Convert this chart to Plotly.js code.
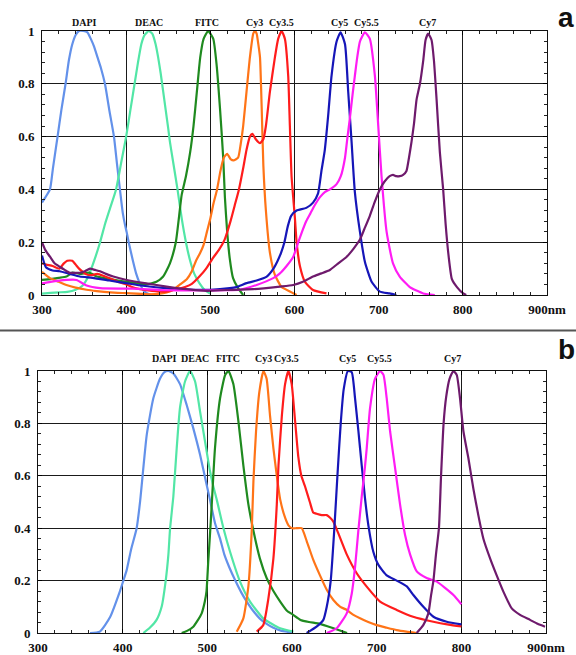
<!DOCTYPE html>
<html><head><meta charset="utf-8">
<script src="https://cdn.plot.ly/plotly-3.0.1.min.js"></script>
<style>html,body{margin:0;padding:0;background:#fff}#chart{width:576px;height:655px}</style>
</head><body><div id="chart"></div>
<script>
// ---------- data ----------
const dyeNames = ['DAPI','DEAC','FITC','Cy3','Cy3.5','Cy5','Cy5.5','Cy7'];
const xTickVals = [300,400,500,600,700,800,900];
const xTickText = ['300','400','500','600','700','800','900nm'];
const yTickVals = [0,0.2,0.4,0.6,0.8,1];
const yTickText = ['0','0.2','0.4','0.6','0.8','1'];
const panelLabels = ['a','b'];

// label positions (nm) for dye names
const labelA_nm = [350,427,496,552,584,654,685,758];
const labelB_nm = [449,485,524,566,594,665,703,790];

// Panel a
const aDAPI_nm = [300,304,309.5,313,318.5,323,328,332,336,340,344,349,354,358,362,366,370,374.8,380,385.5,389,392.6,396,399,400.5,403,408,412,416,420,424,430];
const aDAPI_val = [.35,.37,.40,.48,.60,.70,.80,.89,.95,.985,1.0,1.0,.995,.97,.94,.90,.86,.80,.70,.60,.50,.40,.31,.26,.24,.20,.13,.08,.045,.02,.008,0];
const aDEAC_nm = [300,310,320,330,340,348,355,362,369,375,381,388,394,400,405,410,414,418,422,427,431,435,438,441,444,447,450,452,456,461,466,471,476,481,487,493,500];
const aDEAC_val = [.005,.008,.01,.012,.02,.035,.07,.13,.20,.27,.33,.40,.50,.60,.70,.80,.88,.95,.985,1.0,.99,.95,.90,.84,.77,.70,.63,.58,.50,.40,.29,.20,.13,.08,.045,.02,.005];
const aFITC_nm = [300,310,320,329,336,345,356,365,381,400,424,436,444,452,459,466,471,476,480,484,488,492,497.5,503.5,507.5,511.4,515.3,517.3,520,523,527,533,539];
const aFITC_val = [.057,.06,.065,.07,.085,.08,.085,.07,.06,.05,.04,.05,.07,.12,.20,.38,.45,.54,.64,.77,.90,.97,1.0,.97,.87,.71,.52,.37,.24,.14,.064,.026,0];
const aCy3_nm = [300,309.5,320,329,340,353,365,381,400,424,440,448,456,464,472,478,483,488,492,496,500,504,508,512,516,520,524,528,533,536,539,543,547,551,553,555,557,559,561,563,566,570.8,576.7,584.7,594.5,602.5];
const aCy3_val = [.088,.064,.05,.038,.028,.02,.015,.01,.007,.003,.005,.01,.02,.04,.06,.09,.13,.16,.19,.24,.29,.35,.40,.47,.52,.535,.515,.51,.52,.57,.64,.77,.90,.99,1.0,.99,.95,.90,.71,.49,.32,.16,.076,.03,.013,0];
const aCy35_nm = [300,305,312.6,320.5,326,330,336,340,344,352,358,365.7,375,383.5,390,399,407,415,430.7,446.5,462,470,478,487,495,503,510,517,524,529,534,539,543,547,550,554,559,563,566,570.8,576.7,580.6,584.7,588.6,592.5,594.5,596.5,600.5,602.5,606.4,612.4,622,638];
const aCy35_val = [.12,.115,.11,.10,.12,.13,.13,.115,.10,.08,.075,.08,.07,.06,.05,.042,.03,.023,.016,.013,.023,.03,.042,.07,.10,.14,.17,.21,.28,.34,.40,.48,.55,.60,.61,.59,.575,.59,.64,.77,.90,.97,1.0,.97,.83,.64,.45,.29,.20,.11,.05,.019,.006];
const aCy5_nm = [300,304.7,312.6,321,333,345,360,380,400,420,450,480,500,523,531,543,555,567,575,580,584,588,592,596,602.5,614,622,628,632,636,640,644,650,654.7,660,663.8,667.8,671.7,677.7,683.6,691.6,701.4,713,721];
const aCy5_val = [.15,.105,.093,.09,.08,.07,.065,.055,.045,.035,.025,.02,.02,.026,.03,.045,.055,.07,.10,.13,.16,.20,.26,.30,.32,.33,.35,.385,.47,.55,.68,.83,.96,.995,.95,.77,.58,.39,.24,.126,.05,.013,.006,0];
const aCy55_nm = [300,310,329,341,353,369,408,448,488,519,535,555,574.7,582,590.6,598.5,604.5,609,614,619,624,630,636,642,650,655,660,663,665.8,669,671.7,674.5,677.7,683.6,689.5,695.5,699.5,703.4,709.4,717,725,737,753,766.7];
const aCy55_val = [.044,.05,.057,.057,.036,.026,.024,.018,.018,.018,.02,.038,.064,.08,.11,.145,.20,.24,.28,.31,.34,.37,.39,.40,.42,.45,.52,.60,.67,.76,.83,.90,.96,.995,.97,.83,.64,.45,.24,.12,.07,.03,.006,0];
const aCy7_nm = [300,304,309.5,315,321,327,333,339,345,351,357,363,369,376,384.7,400.6,424,448,471.8,495.6,519,551,582.7,598.5,610,622,632,642,652,662,670,677.7,683,689.5,695,701.4,707,713,717,721,725,729,733,736,739,742,745,749,753,755.7,758.8,762.8,765.6,768.8,772.7,776.6,779.5,783,787,793,800.4,804];
const aCy7_val = [.20,.17,.145,.12,.107,.095,.084,.084,.084,.09,.10,.095,.09,.08,.07,.057,.044,.032,.022,.016,.019,.022,.032,.038,.05,.07,.082,.095,.12,.145,.175,.21,.25,.30,.35,.40,.43,.45,.455,.45,.45,.455,.47,.52,.58,.65,.74,.80,.89,.966,.99,.966,.89,.74,.54,.40,.27,.15,.06,.03,.006,0];

// Panel b
const bDAPI_nm = [361.4,373,385,396.8,400.8,404.7,410,416.5,420.5,428.4,436.2,444,449,454,460,467.7,475.6,483.5,491.4,499.2,503,509,515,520,526,533,540,546.5,554,562,570,578,586,595,600];
const bDAPI_val = [0,.005,.06,.16,.20,.24,.32,.40,.50,.756,.896,.97,.995,1.0,.99,.95,.87,.78,.68,.565,.51,.42,.36,.30,.25,.20,.155,.12,.085,.055,.035,.02,.01,.004,0];
const bDEAC_nm = [424.4,432,440,446,450.8,454,456,459.8,463.8,467.7,473.6,479.6,485.5,491.4,497.3,503,507,511,519,526.8,538.6,550.4,566,586,601.6];
const bDEAC_val = [0,.02,.05,.10,.20,.30,.40,.52,.705,.86,.96,1.0,.96,.845,.73,.62,.56,.51,.40,.31,.196,.12,.056,.018,.005];
const bFITC_nm = [469.7,476,483.4,488,493.3,497,499,501,503,505,509,515,521,525,530.7,536.6,542.5,548.5,554.4,562,570,578,586,594,601,610,620,633,649,665];
const bFITC_val = [0,.008,.024,.045,.075,.12,.16,.27,.37,.48,.705,.896,.985,1.0,.95,.81,.64,.49,.39,.285,.21,.16,.12,.085,.07,.05,.042,.035,.018,0];
const bCy3_nm = [534.7,542.5,548.5,552.4,554.4,557.5,561.4,566.2,570,574,578,582,586,591.8,596,600,605,611.4,617.4,625,633,641,648.8,657,664.6,672,680.3,690,700,712,723.6,735,747];
const bCy3_val = [.005,.056,.18,.39,.58,.77,.92,1.0,.97,.83,.705,.60,.51,.44,.41,.40,.40,.40,.35,.28,.22,.165,.126,.10,.088,.07,.056,.042,.03,.02,.011,.005,0];
const bCy35_nm = [558.3,566,572,578,582,584,588,591.8,595.7,599.6,603.6,607.5,611,615.3,621,625,629,635,641,645,648.8,654.7,664.6,676.4,688.2,704,723.6,743,766.9,785,800];
const bCy35_val = [.005,.03,.13,.285,.49,.64,.83,.95,1.0,.95,.81,.67,.60,.56,.50,.46,.455,.45,.45,.44,.425,.38,.30,.228,.177,.12,.088,.062,.043,.032,.025];
const bCy5_nm = [617.3,629,637,641,645.7,650,653.6,657.5,661,666,670.5,674.4,678.4,682.3,686.2,690.2,696,702,711.8,723.6,735.5,743.3,755.1,767,782.7,800];
const bCy5_val = [0,.024,.05,.10,.20,.40,.60,.80,.93,1.0,.995,.896,.77,.64,.514,.41,.31,.26,.22,.20,.178,.145,.10,.062,.043,.033];
const bCy55_nm = [641,652.8,664.6,670.5,674.4,678.3,682.3,686,688.2,692.1,698,704,708,711.8,715.8,721.7,727.6,733.5,739.4,747.3,759,771,780.7,790.6,800];
const bCy55_val = [0,.018,.075,.15,.25,.39,.52,.63,.705,.857,.97,1.0,.985,.896,.77,.63,.49,.374,.30,.235,.21,.196,.172,.145,.11];
const bCy7_nm = [747.2,755,761,764,767,770,773.5,776,779,782,786,790.6,794.5,798.4,802.4,808.3,814.2,820,826,833.9,841.7,849.6,859.5,869.3,881.1,890,898.8];
const bCy7_val = [0,.03,.075,.14,.20,.30,.40,.60,.80,.90,.97,1.0,.985,.896,.77,.667,.55,.45,.36,.285,.22,.158,.094,.069,.05,.035,.024];

// ---------- styles ----------
const dyeColors = ['#6391ea','#52e6a6','#1f8a1f','#ff7417','#ff1c1c','#1616b8','#ff1cf4','#6e1a6c'];

const panelA = [[aDAPI_nm,aDAPI_val],[aDEAC_nm,aDEAC_val],[aFITC_nm,aFITC_val],[aCy3_nm,aCy3_val],[aCy35_nm,aCy35_val],[aCy5_nm,aCy5_val],[aCy55_nm,aCy55_val],[aCy7_nm,aCy7_val]];
const panelB = [[bDAPI_nm,bDAPI_val],[bDEAC_nm,bDEAC_val],[bFITC_nm,bFITC_val],[bCy3_nm,bCy3_val],[bCy35_nm,bCy35_val],[bCy5_nm,bCy5_val],[bCy55_nm,bCy55_val],[bCy7_nm,bCy7_val]];

const traces = [];
panelA.forEach((d,i)=>traces.push({type:'scatter',mode:'lines',x:d[0],y:d[1],xaxis:'x',yaxis:'y',name:dyeNames[i],
  line:{color:dyeColors[i],width:2.2,shape:'spline',smoothing:0.5},hoverinfo:'skip',showlegend:false}));
panelB.forEach((d,i)=>traces.push({type:'scatter',mode:'lines',x:d[0],y:d[1],xaxis:'x2',yaxis:'y2',name:dyeNames[i],
  line:{color:dyeColors[i],width:2.2,shape:'spline',smoothing:0.5},hoverinfo:'skip',showlegend:false}));

const serif = 'Liberation Serif';
const tickFont = {family:serif,size:13,color:'#111',weight:'bold'};
function xAx(domain, anchor){
  return {domain:domain,anchor:anchor,range:[300,900],tickmode:'array',tickvals:xTickVals,ticktext:xTickText,
    ticks:'inside',ticklen:4,tickcolor:'#000',showgrid:true,gridcolor:'#1a1a1a',gridwidth:1,
    showline:true,linecolor:'#111',linewidth:1,mirror:'allticks',zeroline:false,tickfont:tickFont,
    minor:{tickmode:'linear',tick0:300,dtick:20,ticks:'inside',ticklen:3,tickcolor:'#222',showgrid:false},
    ticklabelstandoff:2,fixedrange:true};
}
function yAx(domain, anchor){
  return {domain:domain,anchor:anchor,range:[0,1],tickmode:'array',tickvals:yTickVals,ticktext:yTickText,
    ticks:'inside',ticklen:4,tickcolor:'#000',showgrid:true,gridcolor:'#1a1a1a',gridwidth:1,
    showline:true,linecolor:'#111',linewidth:1,mirror:'allticks',zeroline:false,tickfont:tickFont,
    minor:{tickmode:'linear',tick0:0,dtick:0.04,ticks:'inside',ticklen:3,tickcolor:'#222',showgrid:false},
    ticklabelstandoff:4,fixedrange:true};
}

const annotations = [];
const labelFont = {family:serif,size:10,color:'#111',weight:'bold'};
labelA_nm.forEach((x,i)=>annotations.push({xref:'x',yref:'paper',x:x,y:0.966,text:dyeNames[i],showarrow:false,font:labelFont,xanchor:'center',yanchor:'middle'}));
labelB_nm.forEach((x,i)=>annotations.push({xref:'x2',yref:'paper',x:x,y:0.452,text:dyeNames[i],showarrow:false,font:labelFont,xanchor:'center',yanchor:'middle'}));
const panelFont = {family:'Liberation Sans',size:28,color:'#111',weight:'bold'};
annotations.push({xref:'paper',yref:'paper',x:0.983,y:0.974,text:panelLabels[0],showarrow:false,font:panelFont,xanchor:'center',yanchor:'middle'});
annotations.push({xref:'paper',yref:'paper',x:0.983,y:0.466,text:panelLabels[1],showarrow:false,font:panelFont,xanchor:'center',yanchor:'middle'});

const layout = {
  width:576,height:655,margin:{l:0,r:0,t:0,b:0},paper_bgcolor:'#fff',plot_bgcolor:'#fff',showlegend:false,
  font:{family:serif},
  xaxis:xAx([0.0729,0.9497],'y'), yaxis:yAx([0.5496,0.9527],'x'),
  xaxis2:xAx([0.066,0.948],'y2'), yaxis2:yAx([0.0336,0.4336],'x2'),
  annotations:annotations,
  shapes:[{type:'line',xref:'paper',yref:'paper',x0:0,x1:1,y0:0.4954,y1:0.4954,line:{color:'#555',width:2}}]
};
Plotly.newPlot('chart',traces,layout,{staticPlot:true,displayModeBar:false});
</script></body></html>
